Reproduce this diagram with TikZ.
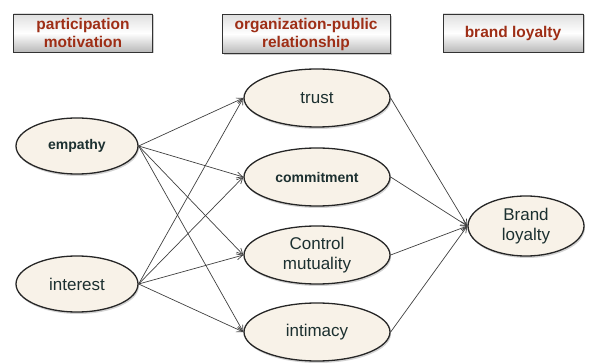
\documentclass[tikz,border=0pt]{standalone}
\usepackage{fontspec}
\setmainfont{Liberation Sans}
\usetikzlibrary{shapes.geometric,arrows.meta,shadows}

\definecolor{headred}{RGB}{158,46,22}
\definecolor{nodetext}{RGB}{28,48,48}
\definecolor{nodefill}{RGB}{248,242,232}

\begin{document}
\begin{tikzpicture}[x=1pt,y=-1pt,
    headbox/.style={draw=black!80, line width=0.9pt, top color=gray!25, bottom color=gray!55, middle color=white,
        text=headred, font=\fontsize{15.5}{18}\selectfont\bfseries, align=center, inner sep=0pt,
        drop shadow={shadow xshift=1.5pt, shadow yshift=-1.5pt, opacity=0.4}},
    oval/.style={ellipse, draw=black!85, line width=1.3pt, fill=nodefill, text=nodetext,
        font=\fontsize{17}{20}\selectfont, align=center, inner sep=0pt,
        minimum width=146pt, minimum height=58pt,
        drop shadow={shadow xshift=1pt, shadow yshift=-2pt, opacity=0.35}},
    smalloval/.style={oval, font=\fontsize{14}{17}\selectfont\bfseries},
    link/.style={draw=black!75, line width=0.7pt, -{Straight Barb[length=6pt,width=6pt]}}]
    \useasboundingbox (0,0) rectangle (589,363);

    % Headers
    \node[headbox, minimum width=139pt, minimum height=38pt] (hmotiv) at (83,33) {participation\\motivation};
    \node[headbox, minimum width=168pt, minimum height=39pt] (hrel) at (306,34) {organization-public\\relationship};
    \node[headbox, minimum width=140pt, minimum height=38pt] (hloyal) at (513,33) {brand loyalty};

    % Motivation
    \node[smalloval, minimum width=122pt, minimum height=56pt] (empathy) at (77,146) {empathy};
    \node[oval, minimum width=122pt, minimum height=56pt] (interest) at (77,284) {interest};

    % Relationship
    \node[oval] (trust) at (317,98) {trust};
    \node[smalloval] (commitment) at (317,177) {commitment};
    \node[oval] (control) at (317,255) {Control\\mutuality};
    \node[oval] (intimacy) at (317,332) {intimacy};

    % Loyalty
    \node[oval, minimum width=116pt, minimum height=60pt] (brand) at (526,226) {Brand\\loyalty};

    % Paths
    \foreach \src in {empathy,interest}
        \foreach \dst in {trust,commitment,control,intimacy}
            \draw[link] (\src.east) -- (\dst.west);
    \foreach \dst in {trust,commitment,control,intimacy}
        \draw[link] (\dst.east) -- (brand.west);
\end{tikzpicture}
\end{document}
